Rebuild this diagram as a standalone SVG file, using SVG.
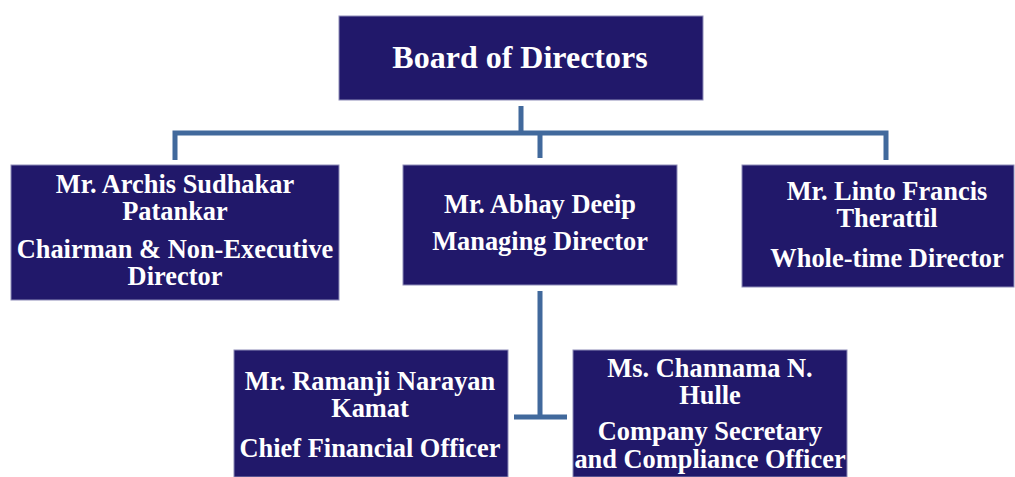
<svg xmlns="http://www.w3.org/2000/svg" width="1015" height="477" viewBox="0 0 1015 477">
<style>
.box{fill:#21186a;stroke:#8e8cb8;stroke-width:1}
.t{font-family:"Liberation Serif","Times New Roman",serif;font-weight:bold;fill:#ffffff;text-anchor:middle;font-size:26.4px}
.c{stroke:#41699c;stroke-width:5;fill:none}
</style>
<rect width="1015" height="477" fill="#ffffff"/>
<g id="connectors">
<path class="c" d="M521 106V133M175 160V133H886V160M540 133V158"/>
<path class="c" d="M540 291V417M514 417H567"/>
</g>
<g id="board">
<rect class="box" x="339" y="16" width="364" height="84"/>
<text class="t" x="520" y="68" style="font-size:32px">Board of Directors</text>
</g>
<g id="archis">
<rect class="box" x="11" y="165" width="328" height="135"/>
<text class="t" x="175" y="193">Mr. Archis Sudhakar</text>
<text class="t" x="175" y="220">Patankar</text>
<text class="t" x="175" y="258">Chairman &amp; Non-Executive</text>
<text class="t" x="175" y="285">Director</text>
</g>
<g id="abhay">
<rect class="box" x="403" y="165" width="274" height="120"/>
<text class="t" x="540" y="213">Mr. Abhay Deeip</text>
<text class="t" x="540" y="250">Managing Director</text>
</g>
<g id="linto">
<rect class="box" x="742" y="165" width="272" height="122"/>
<text class="t" x="887" y="200">Mr. Linto Francis</text>
<text class="t" x="887" y="227">Therattil</text>
<text class="t" x="887" y="267">Whole-time Director</text>
</g>
<g id="ramanji">
<rect class="box" x="234" y="350" width="274" height="127"/>
<text class="t" x="370" y="390">Mr. Ramanji Narayan</text>
<text class="t" x="370" y="417">Kamat</text>
<text class="t" x="370" y="457">Chief Financial Officer</text>
</g>
<g id="channama">
<rect class="box" x="573" y="350" width="274" height="127"/>
<text class="t" x="710" y="377">Ms. Channama N.</text>
<text class="t" x="710" y="404">Hulle</text>
<text class="t" x="710" y="440">Company Secretary</text>
<text class="t" x="710" y="468">and Compliance Officer</text>
</g>
</svg>
